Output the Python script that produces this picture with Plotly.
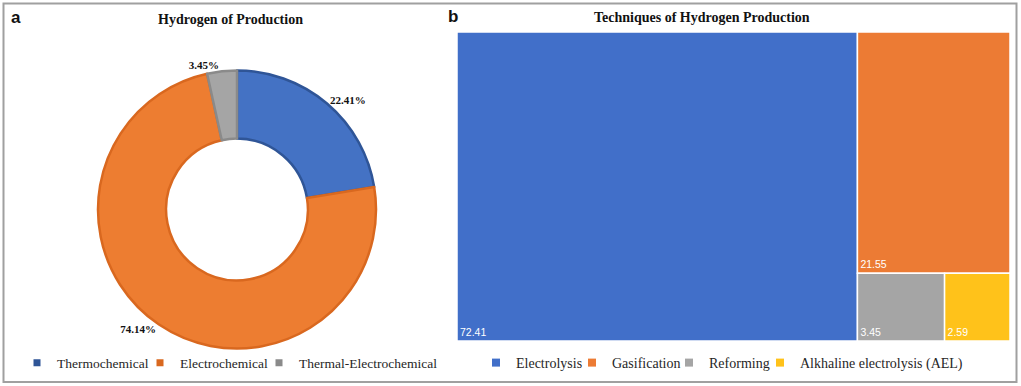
import plotly.graph_objects as go

W, H = 1021, 386

# ---- data ----
pie_labels = ["Thermochemical", "Electrochemical", "Thermal-Electrochemical"]
pie_values = [22.41, 74.14, 3.45]
pie_colors = ["#4472C4", "#ED7D31", "#A5A5A5"]
pie_edges = ["#2F5597", "#D9681F", "#8A8A8A"]

tm_labels = ["Electrolysis", "Gasification", "Reforming", "Alkhaline electrolysis (AEL)"]
tm_values = [72.41, 21.55, 3.45, 2.59]
tm_colors = ["#416FC9", "#EC7B34", "#A5A5A5", "#FFC21A"]

SERIF = "Liberation Serif"

def px_x(x):
    return x / W

def px_y(y):
    return 1 - y / H

fig = go.Figure()

# ---- donut ----
cx, cy, r = 237, 209.5, 139
fig.add_trace(go.Pie(
    labels=pie_labels, values=pie_values, hole=0.51, sort=False,
    direction="clockwise", rotation=0,
    marker=dict(colors=pie_colors, line=dict(color=pie_edges, width=2.5)),
    textposition="outside", texttemplate="%{percent:.2%}",
    textfont=dict(family=SERIF, size=11, color="#111111", weight="bold"),
    domain=dict(x=[px_x(cx - r), px_x(cx + r)], y=[px_y(cy + r), px_y(cy - r)]),
    showlegend=False, hoverinfo="skip",
))

# legend items: one small legend per entry (layout positions of the text starts)
pie_text_x = [57, 180, 299]
tm_text_x = [516, 612, 709, 800]

legends = {}
k = 1
for lab, col, tx in zip(pie_labels, pie_edges, pie_text_x):
    name = "legend" if k == 1 else f"legend{k}"
    fig.add_trace(go.Scatter(
        x=[None], y=[None], mode="markers", name=lab,
        marker=dict(symbol="square", size=7, color=col),
        legend=name, hoverinfo="skip",
    ))
    legends[name] = (tx, 13.5)
    k += 1

# ---- treemap ----
fig.add_trace(go.Treemap(
    labels=tm_labels, parents=[""] * len(tm_labels), values=tm_values,
    marker=dict(colors=tm_colors, line=dict(color="white", width=1.5),
                pad=dict(t=0, l=0, r=0, b=0)),
    texttemplate="%{value}", textposition="bottom left",
    textfont=dict(family="Liberation Sans", size=10.5, color="white"),
    tiling=dict(squarifyratio=1, pad=0),
    pathbar=dict(visible=False),
    domain=dict(x=[px_x(457), px_x(1010)], y=[px_y(341), px_y(32)]),
    hoverinfo="skip", sort=True,
))

for lab, col, tx in zip(tm_labels, tm_colors, tm_text_x):
    name = f"legend{k}"
    fig.add_trace(go.Scatter(
        x=[None], y=[None], mode="markers", name=lab,
        marker=dict(symbol="square", size=8, color=col),
        legend=name, hoverinfo="skip",
    ))
    legends[name] = (tx, 14)
    k += 1

legend_layout = {}
for name, (tx, fs) in legends.items():
    legend_layout[name] = dict(
        orientation="h", x=px_x(tx - 40), xanchor="left", y=px_y(363), yanchor="middle",
        font=dict(family=SERIF, size=fs, color="#262626"), itemwidth=30,
        bgcolor="rgba(0,0,0,0)")

fig.update_layout(
    width=W, height=H,
    margin=dict(l=0, r=0, t=0, b=0),
    paper_bgcolor="white", plot_bgcolor="white",
    xaxis=dict(visible=False), yaxis=dict(visible=False),
    shapes=[dict(type="rect", xref="paper", yref="paper",
                 x0=px_x(3.5), x1=px_x(1016.5), y0=px_y(382), y1=px_y(3.5),
                 line=dict(color="#A0A0A0", width=2))],
    annotations=[
        dict(text="Hydrogen of Production", x=px_x(230.5), y=px_y(19.5), xref="paper", yref="paper",
             showarrow=False, xanchor="center", yanchor="middle",
             font=dict(family=SERIF, size=14, color="#111111", weight="bold")),
        dict(text="Techniques of Hydrogen Production", x=px_x(702), y=px_y(18), xref="paper", yref="paper",
             showarrow=False, xanchor="center", yanchor="middle",
             font=dict(family=SERIF, size=14, color="#111111", weight="bold")),
        dict(text="a", x=px_x(9), y=px_y(18), xref="paper", yref="paper", showarrow=False,
             xanchor="left", yanchor="middle",
             font=dict(family="Liberation Sans", size=17, color="#111111", weight="bold")),
        dict(text="b", x=px_x(446), y=px_y(16), xref="paper", yref="paper", showarrow=False,
             xanchor="left", yanchor="middle",
             font=dict(family="Liberation Sans", size=17, color="#111111", weight="bold")),
    ],
    **legend_layout,
)

fig.write_html("out.html", config={"displayModeBar": False},
               post_script="document.body.style.margin='0';document.body.style.overflow='hidden';")
